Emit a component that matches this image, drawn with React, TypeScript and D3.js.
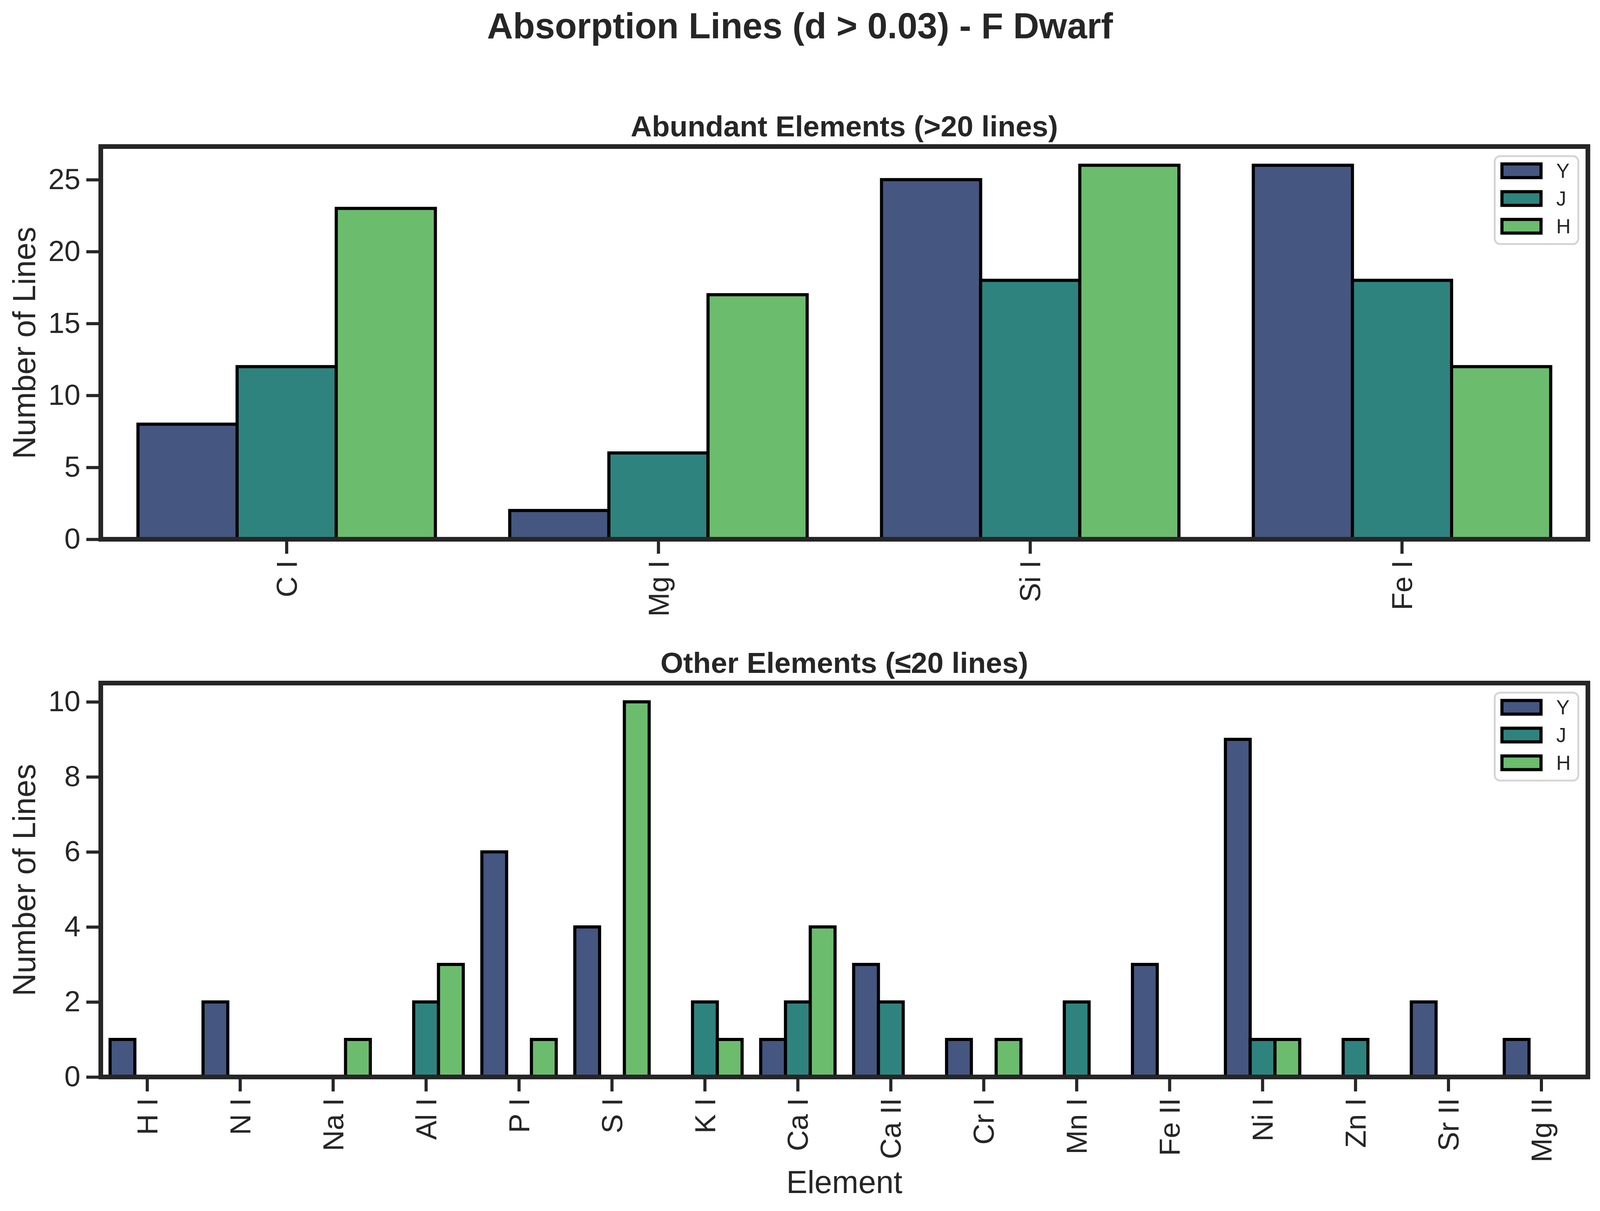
import { useEffect, useRef } from "react";
import * as d3 from "d3";

// Chart values
const bands = ["Y", "J", "H"];

const abundantElements = ["C I", "Mg I", "Si I", "Fe I"];
const abundantY = [8, 2, 25, 26];
const abundantJ = [12, 6, 18, 18];
const abundantH = [23, 17, 26, 12];
const abundantTicks = [0, 5, 10, 15, 20, 25];

const otherElements = [
  "H I", "N I", "Na I", "Al I", "P I", "S I", "K I", "Ca I",
  "Ca II", "Cr I", "Mn I", "Fe II", "Ni I", "Zn I", "Sr II", "Mg II",
];
const otherY = [1, 2, 0, 0, 6, 4, 0, 1, 3, 1, 0, 3, 9, 0, 2, 1];
const otherJ = [0, 0, 0, 2, 0, 0, 2, 2, 2, 0, 2, 0, 1, 1, 0, 0];
const otherH = [0, 0, 1, 3, 1, 10, 1, 4, 0, 1, 0, 0, 1, 0, 0, 0];
const otherTicks = [0, 2, 4, 6, 8, 10];

// desaturated viridis, as seaborn draws it
const bandColors = ["#455681", "#2f837f", "#6cbc6e"];

const W = 4679;
const H = 3099;
const FONT = "'Liberation Sans', Arial, Helvetica, sans-serif";
const INK = "#262626";

interface Panel {
  title: string;
  elements: string[];
  series: number[][];
  ticks: number[];
  yMax: number;
  top: number;
  bottom: number;
  xLabel?: string;
}

const panels: Panel[] = [
  {
    title: "Abundant Elements (>20 lines)",
    elements: abundantElements,
    series: [abundantY, abundantJ, abundantH],
    ticks: abundantTicks,
    yMax: 26 * 1.05,
    top: 375,
    bottom: 1380,
  },
  {
    title: "Other Elements (≤20 lines)",
    elements: otherElements,
    series: [otherY, otherJ, otherH],
    ticks: otherTicks,
    yMax: 10 * 1.05,
    top: 1748,
    bottom: 2756,
    xLabel: "Element",
  },
];

export default function App() {
  const svgRef = useRef<SVGSVGElement>(null);

  useEffect(() => {
    if (!svgRef.current) return;
    // the window may be narrower than the figure; lay out for what we get
    const vw = Math.min(W, window.innerWidth || W);
    const vh = Math.min(H, window.innerHeight || H);
    const k = Math.min(1, vh / H, vw / 4096);

    const root = d3.select(svgRef.current).attr("width", vw).attr("height", vh);
    root.selectAll("*").remove();

    const left = 258 * k;
    const right = vw - 31 * k;
    const tickLen = 37 * k;

    root
      .append("rect")
      .attr("width", vw)
      .attr("height", vh)
      .attr("fill", "#ffffff");

    // Figure title
    root
      .append("text")
      .attr("x", vw / 2)
      .attr("y", 98 * k)
      .attr("text-anchor", "middle")
      .attr("font-family", FONT)
      .attr("font-weight", "bold")
      .attr("font-size", 92 * k)
      .attr("fill", INK)
      .text("Absorption Lines (d > 0.03) - F Dwarf");

    panels.forEach((p) => {
      const top = p.top * k;
      const bottom = p.bottom * k;
      const x = d3.scaleBand().domain(p.elements).range([left, right]).padding(0);
      const inner = d3
        .scaleBand()
        .domain(bands)
        .range([0, x.bandwidth() * 0.8]);
      const y = d3.scaleLinear().domain([0, p.yMax]).range([bottom, top]);

      const g = root.append("g");

      // Bars
      const rows = p.elements.flatMap((el, i) =>
        bands.map((b, j) => ({ el, band: b, j, v: p.series[j][i] }))
      );
      g.selectAll("rect.bar")
        .data(rows.filter((d) => d.v > 0))
        .enter()
        .append("rect")
        .attr("class", "bar")
        .attr("x", (d) => x(d.el)! + x.bandwidth() * 0.1 + inner(d.band)!)
        .attr("y", (d) => y(d.v))
        .attr("width", inner.bandwidth())
        .attr("height", (d) => y(0) - y(d.v))
        .attr("fill", (d) => bandColors[d.j])
        .attr("stroke", "#000000")
        .attr("stroke-width", 8 * k);

      // Y axis
      const yAxis = g
        .append("g")
        .attr("transform", `translate(${left},0)`)
        .call(d3.axisLeft(y).tickValues(p.ticks).tickSize(tickLen).tickPadding(15 * k));
      yAxis.select(".domain").remove();
      yAxis.selectAll("line").attr("stroke", INK).attr("stroke-width", 8 * k);
      yAxis
        .selectAll("text")
        .attr("font-family", FONT)
        .attr("font-size", 74 * k)
        .attr("fill", INK);

      // X axis
      const xAxis = g
        .append("g")
        .attr("transform", `translate(0,${bottom})`)
        .call(d3.axisBottom(x).tickSize(tickLen));
      xAxis.select(".domain").remove();
      xAxis.selectAll("line").attr("stroke", INK).attr("stroke-width", 8 * k);
      xAxis
        .selectAll("text")
        .attr("font-family", FONT)
        .attr("font-size", 74 * k)
        .attr("fill", INK)
        .attr("transform", "rotate(-90)")
        .attr("text-anchor", "end")
        .attr("x", -(tickLen + 17 * k))
        .attr("y", 0)
        .attr("dy", "0.35em");

      // Frame
      g.append("rect")
        .attr("x", left)
        .attr("y", top)
        .attr("width", right - left)
        .attr("height", bottom - top)
        .attr("fill", "none")
        .attr("stroke", INK)
        .attr("stroke-width", 12 * k);

      // Panel title
      g.append("text")
        .attr("x", (left + right) / 2)
        .attr("y", top - 26 * k)
        .attr("text-anchor", "middle")
        .attr("font-family", FONT)
        .attr("font-weight", "bold")
        .attr("font-size", 75 * k)
        .attr("fill", INK)
        .text(p.title);

      // Y label
      g.append("text")
        .attr("transform", `translate(${90 * k},${(top + bottom) / 2}) rotate(-90)`)
        .attr("text-anchor", "middle")
        .attr("font-family", FONT)
        .attr("font-size", 81 * k)
        .attr("fill", INK)
        .text("Number of Lines");

      if (p.xLabel) {
        g.append("text")
          .attr("x", (left + right) / 2)
          .attr("y", 3053 * k)
          .attr("text-anchor", "middle")
          .attr("font-family", FONT)
          .attr("font-size", 81 * k)
          .attr("fill", INK)
          .text(p.xLabel);
      }

      // Legend
      const legend = g
        .append("g")
        .attr("transform", `translate(${right - 241 * k},${top + 22 * k}) scale(${k})`);
      legend
        .append("rect")
        .attr("x", 2.5)
        .attr("y", 2.5)
        .attr("width", 214)
        .attr("height", 225)
        .attr("rx", 14)
        .attr("fill", "#ffffff")
        .attr("stroke", "#d6d6d6")
        .attr("stroke-width", 5);
      bands.forEach((b, j) => {
        const cy = 40 + j * 71;
        legend
          .append("rect")
          .attr("x", 21)
          .attr("y", cy - 17.5)
          .attr("width", 100)
          .attr("height", 35)
          .attr("fill", bandColors[j])
          .attr("stroke", "#000000")
          .attr("stroke-width", 8);
        legend
          .append("text")
          .attr("x", 160)
          .attr("y", cy)
          .attr("dy", "0.36em")
          .attr("font-family", FONT)
          .attr("font-size", 51)
          .attr("fill", INK)
          .text(b);
      });
    });
  }, []);

  return (
    <>
      <style>{`html,body{margin:0;padding:0;overflow:hidden;background:#fff}`}</style>
      <svg ref={svgRef} width={W} height={H} style={{ display: "block" }} />
    </>
  );
}
